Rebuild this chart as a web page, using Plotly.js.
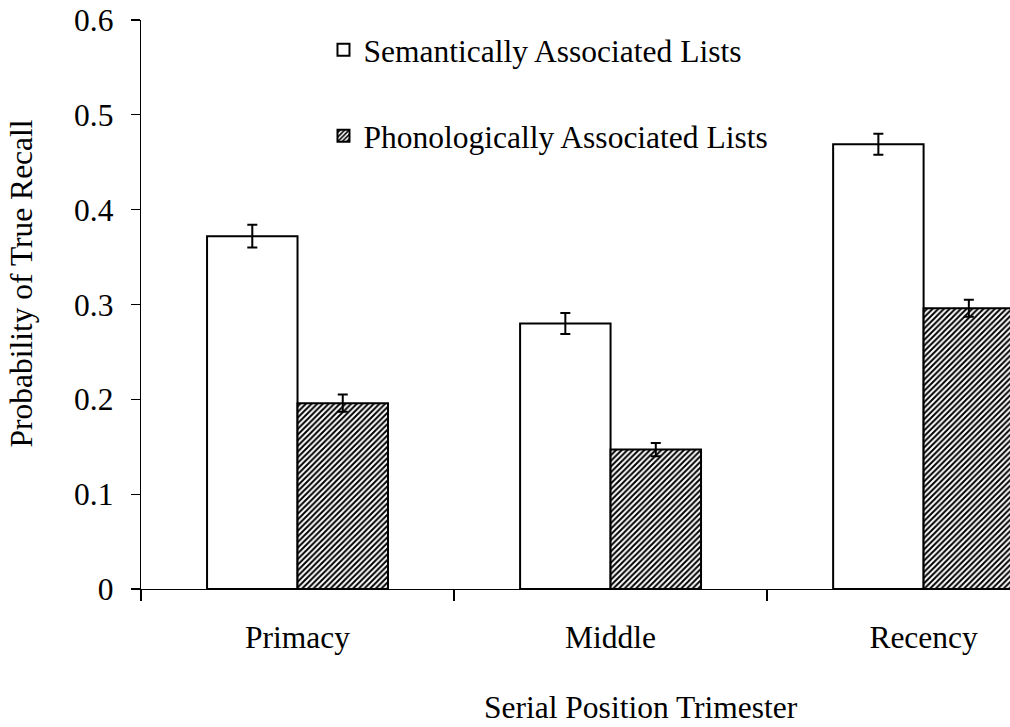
<!DOCTYPE html>
<html>
<head>
<meta charset="utf-8">
<script src="https://cdn.plot.ly/plotly-3.0.1.min.js"></script>
<style>html,body{margin:0;padding:0;background:#fff;}#chart{width:1010px;height:727px;}</style>
</head>
<body>
<div id="chart"></div>
<script>
const categories = ["Primacy", "Middle", "Recency"];
const semanticValues = [0.372, 0.280, 0.469];
const semanticErrors = [0.012, 0.011, 0.011];
const phonologicalValues = [0.196, 0.147, 0.296];
const phonologicalErrors = [0.009, 0.007, 0.009];
const yTickValues = [0, 0.1, 0.2, 0.3, 0.4, 0.5, 0.6];
const yTickLabels = ["0", "0.1", "0.2", "0.3", "0.4", "0.5", "0.6"];

const FONT = "Times New Roman, Liberation Serif, serif";
const FS = 31.5;

const traces = [
  {
    type: "bar",
    name: "Semantically Associated Lists",
    legendgroup: "a",
    x: categories,
    y: semanticValues,
    error_y: {type: "data", array: semanticErrors, visible: true, color: "#000", thickness: 2, width: 5},
    marker: {color: "#fff", line: {color: "#000", width: 2}},
    cliponaxis: true
  },
  {
    type: "bar",
    name: "Phonologically Associated Lists",
    legendgroup: "b",
    x: categories,
    y: phonologicalValues,
    error_y: {type: "data", array: phonologicalErrors, visible: true, color: "#000", thickness: 2, width: 5},
    marker: {
      color: "#fff",
      line: {color: "#000", width: 2},
      pattern: {shape: "/", size: 4, solidity: 0.5, fgcolor: "#000", bgcolor: "#fff", fillmode: "replace"}
    },
    cliponaxis: true
  }
];

const layout = {
  width: 1010,
  height: 727,
  margin: {l: 141, r: 0, t: 20, b: 138},
  paper_bgcolor: "#fff",
  plot_bgcolor: "#fff",
  font: {family: FONT, size: FS, color: "#000"},
  barmode: "group",
  bargap: 0.422,
  bargroupgap: 0,
  showlegend: true,
  legend: {
    x: 0.21, y: 0.995, xanchor: "left", yanchor: "top",
    bgcolor: "rgba(0,0,0,0)",
    font: {family: FONT, size: FS, color: "#000"},
    tracegroupgap: 42,
    itemwidth: 30,
    traceorder: "grouped"
  },
  xaxis: {
    type: "category",
    range: [-0.5, 2.276],
    showline: true, linecolor: "#000", linewidth: 1.3,
    ticks: "outside", tickson: "boundaries", ticklen: 11, tickwidth: 1.3, tickcolor: "#000",
    ticklabelstandoff: 20,
    showgrid: false, zeroline: false,
    tickfont: {family: FONT, size: FS, color: "#000"}
  },
  yaxis: {
    range: [0, 0.6],
    tickvals: yTickValues,
    ticktext: yTickLabels,
    showline: true, linecolor: "#000", linewidth: 1.3,
    ticks: "outside", ticklen: 9, tickwidth: 1.3, tickcolor: "#000",
    ticklabelstandoff: 11,
    showgrid: false, zeroline: false,
    tickfont: {family: FONT, size: FS, color: "#000"}
  },
  annotations: [
    {
      text: "Serial Position Trimester",
      xref: "paper", yref: "paper",
      x: 0.575, y: -0.2425, xanchor: "center", yanchor: "bottom",
      showarrow: false,
      font: {family: FONT, size: FS, color: "#000"}
    },
    {
      text: "Probability of True Recall",
      xref: "paper", yref: "paper",
      x: -0.138, y: 0.537, xanchor: "center", yanchor: "middle",
      textangle: -90,
      showarrow: false,
      font: {family: FONT, size: FS, color: "#000"}
    }
  ]
};

Plotly.newPlot("chart", traces, layout, {displayModeBar: false, staticPlot: true});
</script>
</body>
</html>
